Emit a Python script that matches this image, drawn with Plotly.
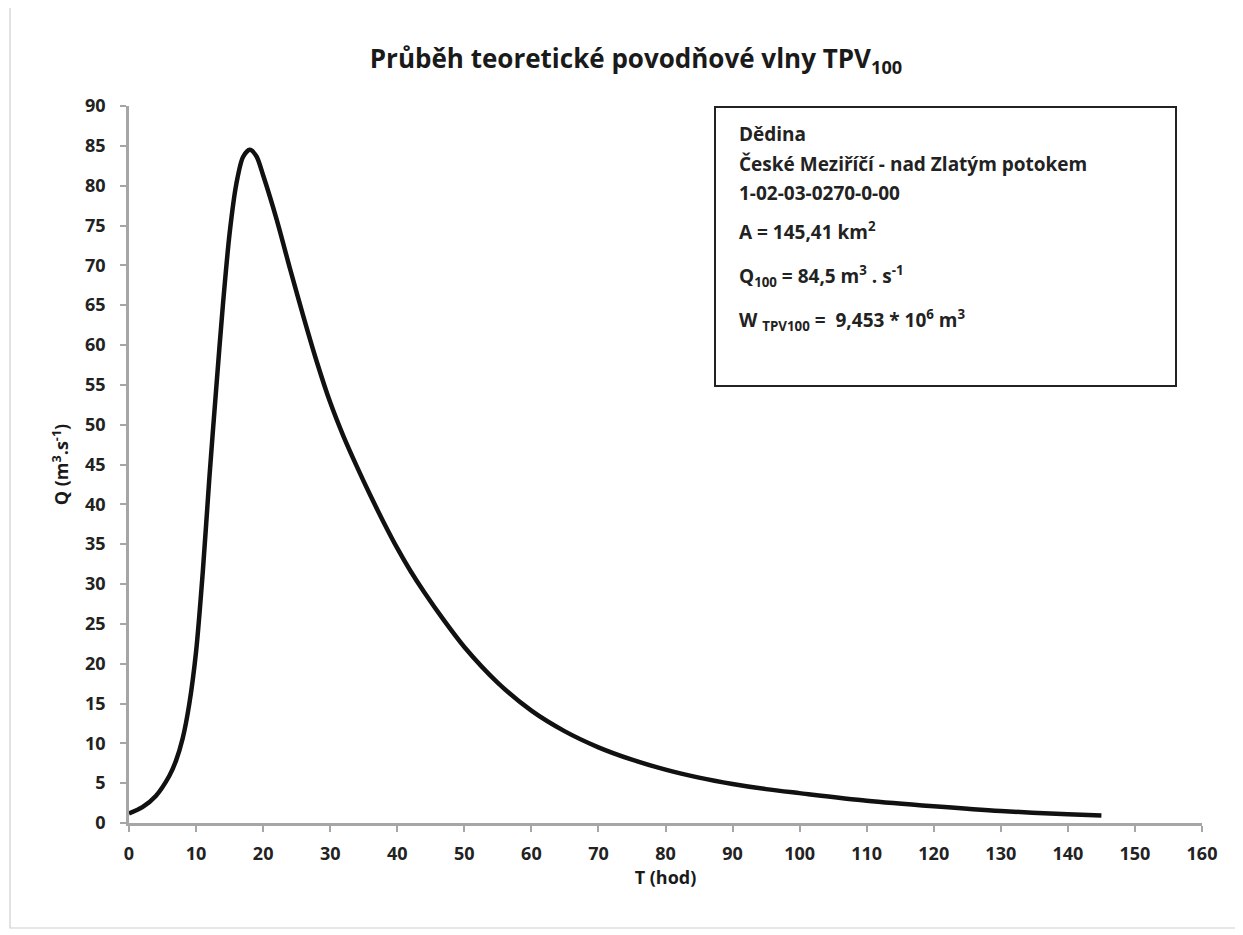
import plotly.graph_objects as go

# Data (time in hours, discharge in m3/s)
T_hod = [0, 2, 4, 6, 7, 8, 9, 10, 11, 12, 13, 14, 15, 16, 17, 18, 19, 20, 22, 24, 26, 28,
         30, 32, 34, 36, 38, 40, 42, 44, 47, 50, 55, 60, 65, 70, 75, 80, 85, 90, 95, 100,
         110, 120, 130, 140, 145]
Q_m3s = [1.2, 2.0, 3.4, 5.9, 7.8, 10.6, 15.0, 21.5, 31.5, 43.5, 54.5, 65.0, 74.0, 80.2, 83.6,
         84.5, 83.7, 81.3, 75.8, 69.6, 63.6, 57.9, 52.8, 48.5, 44.7, 41.1, 37.7, 34.5, 31.6,
         29.0, 25.4, 22.1, 17.6, 14.1, 11.5, 9.5, 7.95, 6.7, 5.7, 4.9, 4.25, 3.75,
         2.8, 2.1, 1.5, 1.1, 0.95]

x_ticks = list(range(0, 161, 10))
y_ticks = list(range(0, 91, 5))

title_text = "Průběh teoretické povodňové vlny TPV<sub>100</sub>"
x_title = "T (hod)"
y_title = "Q (m<sup>3</sup>.s<sup>-1</sup>)"
info_lines = [
    "Dědina",
    "České Meziříčí - nad Zlatým potokem",
    "1-02-03-0270-0-00",
    "A = 145,41 km<sup>2</sup>",
    "Q<sub>100</sub> = 84,5 m<sup>3</sup> . s<sup>-1</sup>",
    "W <sub>TPV100</sub> =  9,453 * 10<sup>6</sup> m<sup>3</sup>",
]
info_screen_y = [134, 164, 193, 231, 276, 320]

FONT = "Open Sans"
W, H = 1243, 935
OFF = 8  # page body margin
L, TOP = 121, 98
pw, ph = 1073, 717
R, B = W - L - pw, H - TOP - ph


def px(sx):
    return (sx - OFF - L) / pw


def py(sy):
    return (TOP + ph - (sy - OFF)) / ph


fig = go.Figure()
fig.add_trace(go.Scatter(
    x=T_hod, y=Q_m3s, mode="lines",
    line=dict(color="#111111", width=4.5, shape="spline", smoothing=0.8),
    showlegend=False, hoverinfo="x+y",
))

axis_common = dict(
    showgrid=False, zeroline=False, showline=True, linecolor="#a6a6a6", linewidth=2.5,
    ticks="outside", ticklen=6, tickwidth=1.5, tickcolor="#a6a6a6",
    tickfont=dict(family=FONT, size=18, color="#222222", weight="bold"),
)

fig.update_layout(
    width=W, height=H,
    paper_bgcolor="white", plot_bgcolor="white",
    margin=dict(l=L, r=R, t=TOP, b=B),
    title=dict(text=title_text, x=(636 - OFF) / W, xanchor="center",
               y=1 - (59 - OFF) / H, yanchor="middle",
               font=dict(family=FONT, size=26, color="#1a1a1a", weight="bold")),
    xaxis=dict(range=[0, 160], tickvals=x_ticks, ticklabelstandoff=7, **axis_common,
               title=dict(text=x_title, standoff=6,
                          font=dict(family=FONT, size=18, color="#1a1a1a", weight="bold"))),
    yaxis=dict(range=[0, 90], tickvals=y_ticks, ticklabelstandoff=11, **axis_common,
               title=dict(text=y_title, standoff=12,
                          font=dict(family=FONT, size=18, color="#1a1a1a", weight="bold"))),
)

# info box
fig.add_shape(type="rect", xref="paper", yref="paper",
              x0=px(715), x1=px(1176), y0=py(386), y1=py(107),
              line=dict(color="#222222", width=2), fillcolor="white", layer="above")
for txt, sy in zip(info_lines, info_screen_y):
    fig.add_annotation(text=txt, xref="paper", yref="paper", x=px(737), y=py(sy),
                       xanchor="left", yanchor="middle", showarrow=False, align="left",
                       font=dict(family=FONT, size=19, color="#222222", weight="bold"))

# outer chart border
fig.add_shape(type="rect", xref="paper", yref="paper",
              x0=px(10), x1=px(1238), y0=py(928), y1=py(6),
              line=dict(color="#cfcfcf", width=1.2), layer="below")

fig.write_html("out.html")
